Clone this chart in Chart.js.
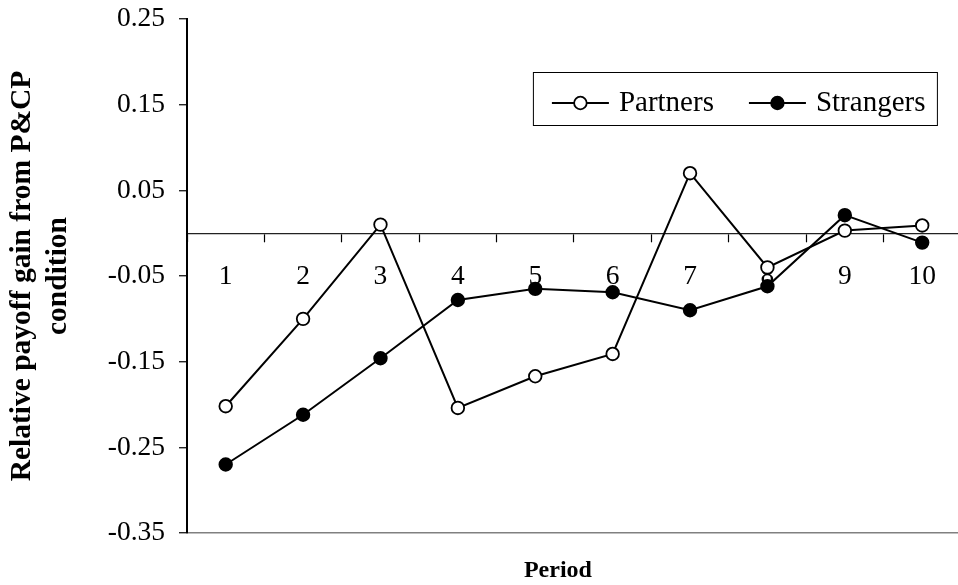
<!DOCTYPE html>
<html>
<head>
<meta charset="utf-8">
<script src="https://cdn.jsdelivr.net/npm/chart.js@4.4.0/dist/chart.umd.min.js"></script>
<style>
  html, body { margin: 0; padding: 0; background: #fff; overflow: hidden; }
  #wrap { position: relative; width: 969px; height: 585px; }
</style>
</head>
<body>
<div id="wrap"><canvas id="c"></canvas></div>
<script>
const periods = ['1', '2', '3', '4', '5', '6', '7', '8', '9', '10'];
const partners = [-0.202, -0.100, 0.010, -0.204, -0.167, -0.141, 0.070, -0.040, 0.003, 0.009];
const strangers = [-0.270, -0.212, -0.146, -0.078, -0.065, -0.069, -0.090, -0.062, 0.021, -0.011];
const yTicks = [-0.35, -0.25, -0.15, -0.05, 0.05, 0.15, 0.25];
const yTitle = ['Relative payoff gain from P&CP', 'condition'];
const xTitle = 'Period';

const SERIF = "'Liberation Serif', 'Times New Roman', serif";
Chart.defaults.font.family = SERIF;
Chart.defaults.color = '#000';

const boxLegend = {
  id: 'boxLegend',
  afterDraw(chart) {
    const ctx = chart.ctx;
    const ca = chart.chartArea;
    const left = ca.right - 428, top = ca.top + 53, w = 404, h = 53;
    ctx.save();
    ctx.strokeStyle = '#000';
    ctx.lineWidth = 1;
    ctx.strokeRect(left + 0.5, top + 0.5, w, h);
    ctx.font = "29px " + SERIF;
    ctx.textBaseline = 'middle';
    ctx.textAlign = 'left';
    let x = left + 19;
    const cy = top + 31;
    chart.data.datasets.forEach(ds => {
      ctx.strokeStyle = ds.borderColor;
      ctx.lineWidth = ds.borderWidth;
      ctx.beginPath();
      ctx.moveTo(x, cy);
      ctx.lineTo(x + 57, cy);
      ctx.stroke();
      ctx.beginPath();
      ctx.arc(x + 28.5, cy, ds.pointRadius, 0, Math.PI * 2);
      ctx.fillStyle = ds.pointBackgroundColor;
      ctx.fill();
      ctx.lineWidth = ds.pointBorderWidth;
      ctx.strokeStyle = ds.pointBorderColor;
      ctx.stroke();
      ctx.fillStyle = '#000';
      ctx.fillText(ds.label, x + 67, cy);
      x += 67 + ctx.measureText(ds.label).width + 35;
    });
    ctx.restore();
  }
};

const periodTitle = {
  id: 'periodTitle',
  afterDraw(chart) {
    const ctx = chart.ctx;
    const ca = chart.chartArea;
    ctx.save();
    ctx.font = "bold 24px " + SERIF;
    ctx.fillStyle = '#000';
    ctx.textAlign = 'center';
    ctx.textBaseline = 'middle';
    ctx.fillText(xTitle, (ca.left + ca.right) / 2 - 16, ca.bottom + 38);
    ctx.restore();
  }
};

new Chart(document.getElementById('c'), {
  type: 'line',
  data: {
    labels: periods,
    datasets: [
      {
        label: 'Partners',
        data: partners,
        borderColor: '#000',
        borderWidth: 2,
        pointRadius: 6.3,
        pointBorderWidth: 1.8,
        pointBackgroundColor: '#fff',
        pointBorderColor: '#000',
        tension: 0,
        fill: false
      },
      {
        label: 'Strangers',
        data: strangers,
        borderColor: '#000',
        borderWidth: 2,
        pointRadius: 6.3,
        pointBorderWidth: 1.8,
        pointBackgroundColor: '#000',
        pointBorderColor: '#000',
        tension: 0,
        fill: false
      }
    ]
  },
  options: {
    responsive: true,
    maintainAspectRatio: false,
    animation: false,
    layout: { padding: { left: 0, right: 0, top: 19, bottom: 52 } },
    plugins: {
      legend: { display: false },
      tooltip: { enabled: false }
    },
    scales: {
      x: {
        type: 'category',
        position: { y: 0 },
        offset: true,
        afterFit(scale) { scale.height = 0; },
        grid: {
          offset: true,
          drawOnChartArea: false,
          drawTicks: true,
          tickLength: 8,
          tickColor: '#000',
          tickWidth: 1.2
        },
        border: { display: true, color: '#222', width: 1.3 },
        ticks: {
          padding: 19,
          maxRotation: 0,
          autoSkip: false,
          color: '#000',
          font: { size: 27.5 }
        }
      },
      y: {
        type: 'linear',
        min: -0.35,
        max: 0.25,
        afterFit(scale) { scale.width = 187; scale.paddingTop = 0; scale.paddingBottom = 0; },
        afterBuildTicks(scale) { scale.ticks = yTicks.map(v => ({ value: v })); },
        grid: {
          drawOnChartArea: true,
          color: ctx => (ctx.tick && Math.abs(ctx.tick.value + 0.35) < 1e-9) ? '#808080' : 'rgba(0,0,0,0)',
          lineWidth: 1.5,
          drawTicks: true,
          tickLength: 8,
          tickColor: '#000',
          tickWidth: 1.2
        },
        border: { display: true, color: '#000', width: 2 },
        ticks: {
          padding: 14,
          color: '#000',
          font: { size: 27.5 },
          callback: v => v.toFixed(2)
        },
        title: {
          display: true,
          text: yTitle,
          color: '#000',
          padding: { top: 3.5, bottom: 0 },
          font: { size: 29.5, weight: 'bold', lineHeight: 1.25 }
        }
      }
    }
  },
  plugins: [boxLegend, periodTitle]
});
</script>
</body>
</html>
